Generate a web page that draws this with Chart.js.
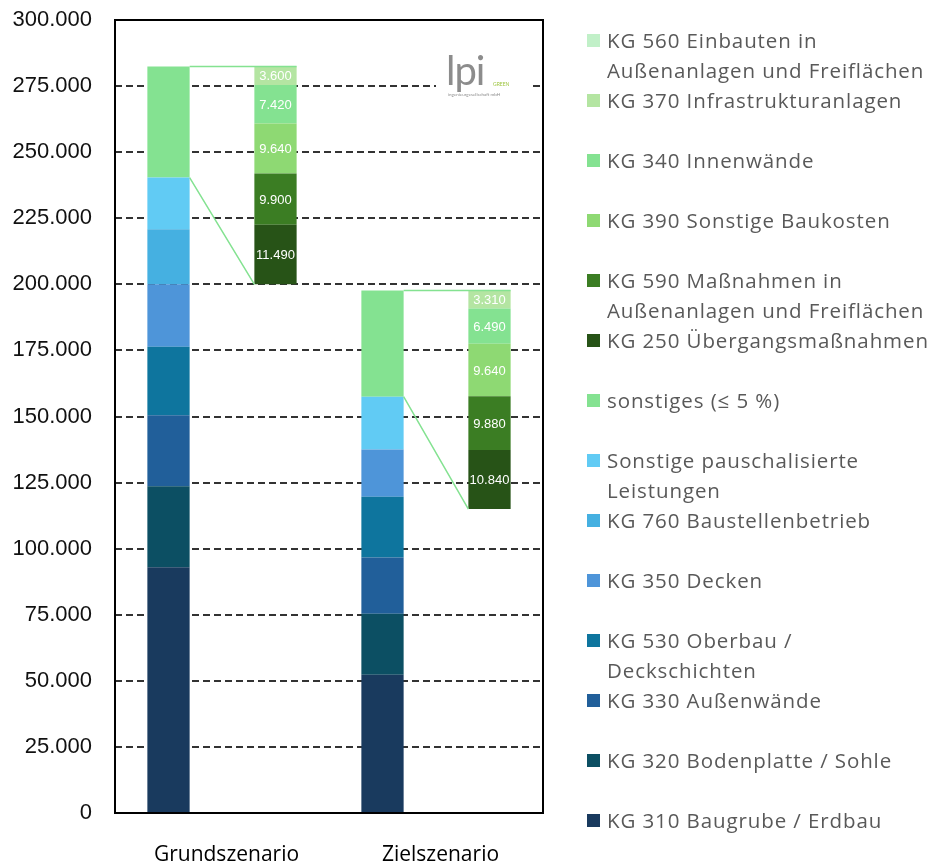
<!DOCTYPE html>
<html lang="de">
<head>
<meta charset="utf-8">
<title>Kostengruppen Grund- und Zielszenario</title>
<script src="https://cdn.jsdelivr.net/npm/chart.js@4.4.1/dist/chart.umd.min.js"></script>
<style>
  body { margin: 0; background: #fff; }
  #wrap { position: relative; width: 929px; height: 863px; }
  #legend { position: absolute; left: 587px; top: 0; font-family: "Open Sans", sans-serif; font-size: 20.5px; letter-spacing: 0.9px; color: #595959; }
  .item { position: absolute; left: 0; white-space: pre; line-height: 30px; padding-left: 20px; }
  .box { position: absolute; left: 0; top: 9px; width: 13px; height: 13px; }
  #logo { position: absolute; left: 436px; top: 55px; width: 96px; height: 47px; background: #fff; font-family: Lato, sans-serif; }
  #logo .lpi { position: absolute; left: 10px; top: -9px; font-size: 40px; color: #8c8c8c; letter-spacing: -1px; }
  #logo .green { position: absolute; left: 57px; top: 26px; font-size: 5px; color: #9cc43c; }
  #logo .sub { position: absolute; left: 12px; top: 37px; font-size: 4.5px; color: #8c8c8c; white-space: nowrap; }
</style>
</head>
<body>
<div id="wrap">
  <canvas id="myChart" width="929" height="863"></canvas>
  <div id="logo"><span class="lpi">lpi</span><span class="green">GREEN</span><div class="sub">ingenieurgesellschaft mbH</div></div>
  <div id="legend"></div>
</div>
<script>
// categories (Grundszenario, Zielszenario)
const scenarios = ['Grundszenario', 'Zielszenario'];

// main stack, bottom to top
const kg310 = [93000, 52300];
const kg320 = [30600, 23100];
const kg330 = [26900, 21300];
const kg530 = [25900, 22900];
const kg350 = [23600, 17900];
const kg760 = [20800, 0];
const pauschal = [19600, 20000];
const sonstiges = [42050, 40160];

// breakdown of "sonstiges", bottom to top
const kg250 = [11490, 10840];
const kg590 = [9900, 9880];
const kg390 = [9640, 9640];
const kg340 = [7420, 6490];
const kg370 = [3600, 3310];
const kg560 = [0, 0];

// where the breakdown bar starts on the axis
const detailBase = [200000, 115000];

const mainLabels = ['KG 310 Baugrube / Erdbau', 'KG 320 Bodenplatte / Sohle', 'KG 330 Außenwände',
  'KG 530 Oberbau /\nDeckschichten', 'KG 350 Decken', 'KG 760 Baustellenbetrieb',
  'Sonstige pauschalisierte\nLeistungen', 'sonstiges (≤ 5 %)'];
const detailLabels = ['KG 250 Übergangsmaßnahmen', 'KG 590 Maßnahmen in\nAußenanlagen und Freiflächen',
  'KG 390 Sonstige Baukosten', 'KG 340 Innenwände', 'KG 370 Infrastrukturanlagen',
  'KG 560 Einbauten in\nAußenanlagen und Freiflächen'];

const yTicks = { min: 0, max: 300000, step: 25000 };

const mainSeries = [kg310, kg320, kg330, kg530, kg350, kg760, pauschal, sonstiges];
const detailSeries = [kg250, kg590, kg390, kg340, kg370, kg560];
const mainColors = ['#193a5e', '#0c4f63', '#215f9a', '#0e759e', '#4e95d9', '#45b0e1', '#61cbf4', '#84e291'];
const detailColors = ['#275317', '#3b7d23', '#8ed973', '#84e291', '#b4e5a2', '#c1f0c8'];

function fmt(v) {
  return Math.round(v).toString().replace(/\B(?=(\d{3})+(?!\d))/g, '.');
}

// the breakdown bar is stretched so it reaches from its base up to the top of the main bar
const factor = scenarios.map((s, i) => {
  const total = mainSeries.reduce((a, v) => a + v[i], 0);
  const parts = detailSeries.reduce((a, v) => a + v[i], 0);
  return (total - detailBase[i]) / parts;
});

const xLabels = [scenarios[0], '', scenarios[1], ''];
const datasets = [{
  label: 'base',
  data: [null, detailBase[0], null, detailBase[1]],
  backgroundColor: 'rgba(0,0,0,0)'
}];
mainSeries.forEach((v, i) => {
  datasets.push({ label: mainLabels[i], data: [v[0], null, v[1], null], backgroundColor: mainColors[i] });
});
detailSeries.forEach((v, i) => {
  datasets.push({
    label: detailLabels[i],
    data: [null, v[0] * factor[0], null, v[1] * factor[1]],
    rawValues: [null, v[0], null, v[1]],
    backgroundColor: detailColors[i]
  });
});
const sonstigesIndex = mainSeries.length; // dataset index of "sonstiges" (base dataset is 0)

// white value labels inside the breakdown bars
const valueLabels = {
  id: 'valueLabels',
  afterDatasetsDraw(chart) {
    const ctx = chart.ctx;
    ctx.save();
    ctx.font = '13px "Liberation Sans", Arial, sans-serif';
    ctx.fillStyle = '#ffffff';
    ctx.textAlign = 'center';
    ctx.textBaseline = 'middle';
    chart.data.datasets.forEach((ds, i) => {
      if (!ds.rawValues) return;
      chart.getDatasetMeta(i).data.forEach((bar, j) => {
        const raw = ds.rawValues[j];
        if (!raw) return;
        ctx.fillText(fmt(raw), bar.x, (bar.y + bar.base) / 2 + 1);
      });
    });
    ctx.restore();
  }
};

// frame around the plot and the connector lines to the breakdown bars
const frameAndLinks = {
  id: 'frameAndLinks',
  afterDatasetsDraw(chart) {
    const ctx = chart.ctx;
    const a = chart.chartArea;
    ctx.save();
    ctx.strokeStyle = '#84e291';
    ctx.lineWidth = 1.5;
    [0, 1].forEach(s => {
      const main = chart.getDatasetMeta(sonstigesIndex).data[2 * s];
      const detail = chart.getDatasetMeta(0).data[2 * s + 1];
      const right = main.x + main.width / 2;
      ctx.beginPath();
      ctx.moveTo(right, main.y);
      ctx.lineTo(detail.x + detail.width / 2, main.y);
      ctx.moveTo(right, main.base);
      ctx.lineTo(detail.x - detail.width / 2, detail.y);
      ctx.stroke();
    });
    ctx.strokeStyle = '#000';
    ctx.lineWidth = 2;
    ctx.strokeRect(a.left, a.top, a.right - a.left, a.bottom - a.top);
    ctx.restore();
  }
};

new Chart(document.getElementById('myChart'), {
  type: 'bar',
  data: { labels: xLabels, datasets: datasets },
  options: {
    responsive: false,
    animation: false,
    layout: { padding: { top: 20, right: 386, left: 0, bottom: 0 } },
    datasets: { bar: { categoryPercentage: 1, barPercentage: 0.395, borderWidth: 0 } },
    plugins: { legend: { display: false }, tooltip: { enabled: false } },
    scales: {
      x: {
        stacked: true,
        grid: { display: false },
        border: { display: false },
        afterFit: scale => { scale.height = 50; },
        ticks: {
          autoSkip: false,
          maxRotation: 0,
          labelOffset: 58,
          padding: 21,
          color: '#000',
          font: { family: '"Open Sans", sans-serif', size: 21 }
        }
      },
      y: {
        stacked: true,
        min: yTicks.min,
        max: yTicks.max,
        afterFit: scale => {
          scale.width = 115;
          scale.paddingTop = 0;
          scale.paddingBottom = 0;
        },
        grid: { color: '#333', lineWidth: 2, drawTicks: false },
        border: { display: false, dash: [7, 4] },
        ticks: {
          stepSize: yTicks.step,
          padding: 23,
          color: '#111',
          font: { family: '"Liberation Sans", Arial, sans-serif', size: 22 },
          callback: v => fmt(v)
        }
      }
    }
  },
  plugins: [valueLabels, frameAndLinks]
});

// legend: last series on top, like the original
const legend = document.getElementById('legend');
const legendLabels = mainLabels.concat(detailLabels).reverse();
const legendColors = mainColors.concat(detailColors).reverse();
legendLabels.forEach((text, i) => {
  const item = document.createElement('div');
  item.className = 'item';
  item.style.top = (25 + 60 * i) + 'px';
  const box = document.createElement('span');
  box.className = 'box';
  box.style.background = legendColors[i];
  item.appendChild(box);
  item.appendChild(document.createTextNode(text));
  legend.appendChild(item);
});
</script>
</body>
</html>
